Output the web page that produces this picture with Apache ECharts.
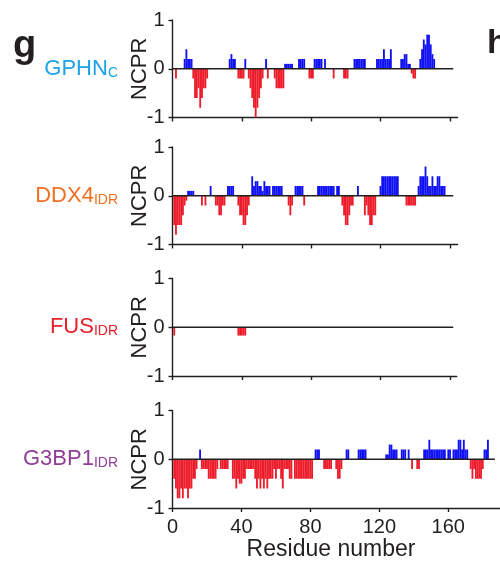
<!DOCTYPE html>
<html><head><meta charset="utf-8">
<script src="https://cdn.jsdelivr.net/npm/echarts@6/dist/echarts.min.js"></script>
<style>html,body{margin:0;padding:0;background:#fff}#c{width:500px;height:563px}</style>
</head><body><div id="c"></div>
<script>
// ---- data ----
const residueTicks = [0, 40, 80, 120, 160];
const ncprTicks = [-1, 0, 1];
const panelMain = ['GPHN', 'DDX4', 'FUS', 'G3BP1'];
const panelSub = ['C', 'IDR', 'IDR', 'IDR'];
const panelColors = ['#1ca3e6', '#f26f21', '#e8202a', '#8f3f97'];
const seqLength = [162, 162, 162, 187];

// NCPR per residue (residue 1 .. n)
const gphnc = [
  0,-0.2,0,0,0,0,0.2,0.4,0.2,0.2,
  0.2,-0.2,-0.6,-0.6,-0.4,-0.8,-0.6,-0.4,-0.4,-0.2,
  0,0,0,0,0,0,0,0,0,0,
  0,0,0.2,0.3,0.2,0.2,0,-0.2,-0.2,-0.2,
  -0.2,0.2,0,-0.2,-0.4,-0.6,-0.8,-1,-0.8,-0.6,
  -0.4,-0.2,0,0.2,-0.2,0,0,0,-0.2,-0.4,
  -0.4,-0.4,-0.4,-0.4,0.1,0.1,0.1,0.1,0.1,0,
  0,0,0.2,0.2,0.2,0.2,0,0,-0.2,-0.2,
  -0.2,0.2,0.2,0.2,0.2,0.2,0,0.2,0,0,
  0,0,-0.2,0,0,0,0,0,-0.2,-0.2,
  -0.2,0,0,0,0.2,0.2,0.2,0.2,0.2,0.2,
  0.2,0,0,0,0,0,0,0.2,0.2,0.2,
  0.2,0.4,0.2,0.2,0.2,0.4,0,0,0,0,
  0,0.2,0.2,0.3,0.3,0.1,0.1,-0.1,-0.2,-0.2,
  0,0,0.2,0.4,0.6,0.5,0.7,0.7,0.5,0.3,
  0.2,0,0,0,0,0,0,0,0,0,
  0,0
];
const ddx4 = [
  -0.6,-0.8,-0.6,-0.6,-0.6,-0.4,-0.2,-0.1,0.1,0.1,
  0.1,0.1,0,0,0,0,-0.2,0,-0.2,0,
  0,0.2,0,0,-0.2,-0.2,-0.4,-0.4,-0.2,-0.2,
  0,0.2,0.2,0.2,0.2,0,0,-0.2,-0.4,-0.4,
  -0.6,-0.6,-0.4,-0.2,0,0.4,0.2,0.3,0.3,0.2,
  0.2,0.1,0.3,0.2,0.2,0.2,0,0.2,0.2,0.2,
  0.2,0.2,0.2,0,0,0,-0.2,-0.4,-0.2,0,
  0.2,0.2,0.2,0.2,0.2,-0.2,0,0,0,0,
  0,0,0,0.2,0.2,0.2,0.2,0.2,0.2,0.2,
  0.2,0.2,0.2,0,0.2,0.2,0,-0.2,-0.4,-0.6,
  -0.6,-0.4,-0.2,-0.2,0,0,0.2,0,0,0,
  -0.4,-0.2,-0.4,-0.6,-0.6,-0.4,-0.4,0,0,0.2,
  0.4,0.4,0.4,0.4,0.4,0.4,0.4,0.4,0.4,0.4,
  0,0,0,0,-0.2,-0.2,-0.2,-0.2,-0.2,-0.2,
  0,0.2,0.4,0.4,0.4,0.6,0.4,0.2,0.2,0.4,
  0.2,0.2,0.4,0.4,0.2,0.2,0.2,0,0,0,
  0,0
];
const fus = [
  -0.17,0,0,0,0,0,0,0,0,0,
  0,0,0,0,0,0,0,0,0,0,
  0,0,0,0,0,0,0,0,0,0,
  0,0,0,0,0,0,0,-0.17,-0.17,-0.17,
  -0.17,-0.17,0,0,0,0,0,0,0,0,
  0,0,0,0,0,0,0,0,0,0,
  0,0,0,0,0,0,0,0,0,0,
  0,0,0,0,0,0,0,0,0,0,
  0,0,0,0,0,0,0,0,0,0,
  0,0,0,0,0,0,0,0,0,0,
  0,0,0,0,0,0,0,0,0,0,
  0,0,0,0,0,0,0,0,0,0,
  0,0,0,0,0,0,0,0,0,0,
  0,0,0,0,0,0,0,0,0,0,
  0,0,0,0,0,0,0,0,0,0,
  0,0,0,0,0,0,0,0,0,0,
  0,0
];
const g3bp1 = [
  -0.4,-0.6,-0.8,-0.8,-0.6,-0.8,-0.6,-0.6,-0.8,-0.6,
  -0.6,-0.4,-0.4,-0.2,0,0.2,-0.2,-0.2,-0.2,-0.2,
  -0.4,-0.4,-0.4,-0.4,-0.4,-0.2,0,-0.2,-0.2,-0.2,
  -0.2,-0.2,0,0,-0.4,-0.4,-0.6,-0.4,-0.5,-0.5,
  -0.4,-0.4,-0.2,-0.2,-0.2,-0.2,-0.2,-0.4,-0.6,-0.4,
  -0.6,-0.4,-0.6,-0.4,-0.6,-0.4,-0.4,-0.4,-0.2,-0.4,
  -0.2,-0.2,-0.4,-0.6,-0.2,-0.2,-0.2,-0.4,-0.4,0,
  -0.4,-0.4,-0.4,-0.4,-0.4,-0.4,-0.4,-0.4,-0.4,-0.4,
  -0.4,0,0.2,0.2,0.2,0,0,-0.2,-0.2,-0.2,
  -0.2,-0.2,0,0,-0.2,-0.4,-0.4,-0.2,0,0,
  0.2,0.2,0,0,0,0,0,0.2,0.2,0.2,
  0.2,0.2,0,0,0,0,0,0,0,0,
  0,0,0,0.1,0.1,0.3,0.3,0.2,0.2,0.2,
  0,0,0.2,0.2,0.2,0,0.2,0,-0.2,0,
  0,-0.2,-0.2,0,0,0.2,0.2,0.2,0.4,0.2,
  0.2,0.2,0.2,0.2,0.2,0.2,0.2,0.2,0,0.2,
  0.2,0,0.2,0.2,0.2,0.4,0.4,0.2,0.4,0.2,
  0.2,0,-0.2,-0.4,-0.2,-0.4,-0.4,-0.4,-0.4,-0.2,
  0.2,0.2,0.4,0,0,0,0
];
const panelData = [gphnc, ddx4, fus, g3bp1];

// ---- layout ----
const FONT = 'Arial, "Liberation Sans", Helvetica, sans-serif';
const INK = '#231f20';
const BLUE = '#1010f5';
const RED = '#ec1c2a';
const gridLeft = 172.5;
const pxPerRes = 1.733;
const gridTops = [20, 147, 278.5, 410.5];
const gridH = 97.5;
const axisEnd = [164.5, 164.5, 164, 190];

const grids = [], xAxes = [], yAxes = [], series = [], graphics = [];
for (let i = 0; i < 4; i++) {
  grids.push({left: gridLeft, top: gridTops[i], width: axisEnd[i] * pxPerRes, height: gridH});
  xAxes.push({
    type: 'value', gridIndex: i, min: 0, max: axisEnd[i],
    axisLine: {show: true, onZero: false, lineStyle: {color: INK, width: 1.4}},
    axisTick: {show: true, length: 4, customValues: residueTicks, lineStyle: {color: INK, width: 1.4}},
    axisLabel: {show: i === 3, customValues: residueTicks, fontSize: 20, color: INK, fontFamily: FONT, margin: 9},
    splitLine: {show: false}
  });
  yAxes.push({
    type: 'value', gridIndex: i, min: -1, max: 1, interval: 1,
    axisLine: {show: true, onZero: false, lineStyle: {color: INK, width: 1.4}},
    axisTick: {show: true, length: 4, customValues: ncprTicks, lineStyle: {color: INK, width: 1.4}},
    axisLabel: {customValues: ncprTicks, fontSize: 20, color: INK, fontFamily: FONT, margin: 8},
    splitLine: {show: false},
    name: 'NCPR', nameLocation: 'middle', nameGap: 22, nameMoveOverlap: false,
    nameTextStyle: {fontSize: 22, color: INK, fontFamily: FONT}
  });
  series.push({
    type: 'bar', xAxisIndex: i, yAxisIndex: i, barWidth: 1.85,
    data: panelData[i].map((v, k) => [k + 1, v]),
    itemStyle: {color: p => (p.value[1] >= 0 ? BLUE : RED)},
    animation: false, silent: true, z: 2
  });
  series.push({
    type: 'line', xAxisIndex: i, yAxisIndex: i, showSymbol: false, symbol: 'none',
    data: [[0, 0], [seqLength[i], 0]],
    lineStyle: {color: INK, width: 1.4}, animation: false, silent: true, z: 5
  });
  graphics.push({
    type: 'text', x: 118, y: gridTops[i] + gridH / 2,
    style: {
      text: '{m|' + panelMain[i] + '}{s|' + panelSub[i] + '}',
      textAlign: 'right', textVerticalAlign: 'middle', fill: panelColors[i],
      rich: {
        m: {fontSize: 22, fontFamily: FONT, fill: panelColors[i], verticalAlign: 'bottom'},
        s: {fontSize: 14, fontFamily: FONT, fill: panelColors[i], verticalAlign: 'bottom'}
      }
    }
  });
}
graphics.push({type: 'text', x: 13, y: 47, style: {text: 'g', fontSize: 38, fontWeight: 'bold', fontFamily: FONT, fill: INK, textVerticalAlign: 'middle'}});
graphics.push({type: 'text', x: 487, y: 44, style: {text: 'h', fontSize: 34, fontWeight: 'bold', fontFamily: FONT, fill: INK, textVerticalAlign: 'middle'}});
graphics.push({type: 'text', x: 331, y: 550, style: {text: 'Residue number', fontSize: 23, fontFamily: FONT, fill: INK, textAlign: 'center', textVerticalAlign: 'middle'}});

const chart = echarts.init(document.getElementById('c'), null, {renderer: 'canvas'});
chart.setOption({
  animation: false,
  backgroundColor: '#ffffff',
  grid: grids, xAxis: xAxes, yAxis: yAxes, series: series, graphic: graphics
});
</script></body></html>
